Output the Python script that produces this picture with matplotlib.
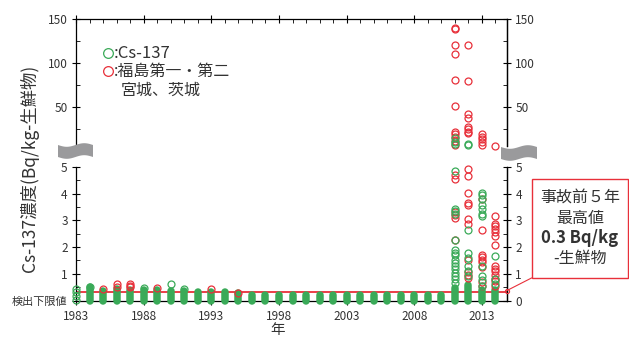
import numpy as np
import matplotlib
matplotlib.use("Agg")
import matplotlib.pyplot as plt
from matplotlib.patches import Polygon, Rectangle
from matplotlib.lines import Line2D

plt.rcParams['font.family'] = ['Noto Sans CJK JP', 'DejaVu Sans']

W, H = 629, 341

years = [1983, 1984, 1985, 1986, 1987, 1988, 1989, 1990, 1991, 1992, 1993,
         1994, 1995, 1996, 1997, 1998, 1999, 2000, 2001, 2002, 2003, 2004,
         2005, 2006, 2007, 2008, 2009, 2010, 2011, 2012, 2013, 2014]

# top of the dense (overlapping) green column per year, Bq/kg
green_col_top = [np.nan, 0.50, 0.37, 0.44, 0.40, 0.40, 0.38, 0.35, 0.35, 0.33,
                 0.32, 0.30, 0.28, 0.22, 0.22, 0.22, 0.21, 0.21, 0.21, 0.21,
                 0.21, 0.21, 0.21, 0.20, 0.20, 0.20, 0.20, 0.20, 0.45, 0.58,
                 0.40, 0.40]

# single Cs-137 samples (green) that stand out of the columns
green_pts = {
    1983: [0.02, 0.16, 0.30, 0.43],
    1984: [0.50],
    1988: [0.46],
    1990: [0.60],
    1991: [0.42],
    2011: [14.2, 10.3, 7.7, 4.84, 3.44, 3.35, 3.25, 2.25, 1.88, 1.79, 1.69,
           1.50, 1.39, 1.28, 1.17, 1.03, 0.90, 0.79, 0.65],
    2012: [7.2, 6.6, 2.65, 1.77, 1.58, 1.29, 1.12, 0.92],
    2013: [4.04, 3.94, 3.81, 3.56, 3.44, 3.25, 3.15, 1.28, 0.90, 0.78, 0.56],
    2014: [1.65, 0.81, 0.60],
}

# Fukushima I/II, Miyagi, Ibaraki (red)
red_pts = {
    1985: [0.43],
    1986: [0.60, 0.52],
    1987: [0.60, 0.55, 0.50],
    1989: [0.47],
    1993: [0.43],
    1995: [0.28],
    2011: [139.6, 138.4, 119.6, 109.8, 80.3, 50.8, 21.7, 19.0, 16.0, 11.4,
           6.6, 4.69, 4.54, 3.31, 3.19, 3.10, 2.25],
    2012: [119.6, 78.8, 41.7, 36.8, 27.4, 24.5, 21.8, 20.5, 4.94, 4.65, 4.04,
           3.65, 3.56, 3.06, 2.88, 1.52, 1.06, 0.94, 0.85],
    2013: [18.5, 15.5, 13.0, 10.0, 7.0, 3.81, 2.63, 1.69, 1.63, 1.52, 1.44,
           1.25, 0.69, 0.56],
    2014: [5.5, 3.15, 2.88, 2.78, 2.69, 2.56, 2.40, 2.06, 1.28, 1.19, 1.09,
           0.94, 0.81, 0.73, 0.53],
}

pre_max = 0.3
green = '#3aaa58'
red = '#e8303a'
txt = '#333333'


def fbox(x0, y0, x1, y1):
    # pixel box (top-left origin) -> figure fraction [l, b, w, h]
    return [x0 / W, 1 - y1 / H, (x1 - x0) / W, (y1 - y0) / H]


fig = plt.figure(figsize=(W / 100, H / 100), dpi=100)
ax_up = fig.add_axes(fbox(76, 18.5, 507, 146.4))
ax_lo = fig.add_axes(fbox(76, 167, 507, 300.5))

xlim = (1983, 2014.85)
for ax in (ax_up, ax_lo):
    ax.set_xlim(*xlim)
    for s in ax.spines.values():
        s.set_linewidth(0.9)
    ax.set_xticks(years[::5])
    ax.set_xticks(years, minor=True)

ax_up.set_ylim(5, 150)
ax_lo.set_ylim(0, 5)
ax_up.spines['bottom'].set_visible(False)
ax_lo.spines['top'].set_visible(False)

ax_up.tick_params(axis='x', which='both', bottom=False, top=True,
                  labelbottom=False)
ax_up.tick_params(axis='x', which='major', direction='inout', length=6)
ax_up.tick_params(axis='x', which='minor', direction='in', length=3)
ax_lo.tick_params(axis='x', which='major', direction='inout', length=6,
                  labelsize=8.5, labelcolor=txt, pad=4)
ax_lo.tick_params(axis='x', which='minor', direction='in', length=3)

ax_up.set_yticks([50, 100, 150])
ax_up.set_yticks([25, 75, 125], minor=True)
ax_lo.set_yticks([0, 1, 2, 3, 4, 5], ['検出下限値', '1', '2', '3', '4', '5'])
ax_lo.set_yticks(np.arange(0.5, 5, 1.0), minor=True)

for ax in (ax_up, ax_lo):
    ax.tick_params(axis='y', which='major', direction='inout', length=6,
                   labelsize=8.5, labelcolor=txt, pad=3)
    ax.tick_params(axis='y', which='minor', direction='in', length=3)
ax_lo.get_yticklabels()[0].set_fontsize(8)

# right-hand axes with their own labels
for ax, ticks, minor in ((ax_up, [50, 100, 150], [25, 75, 125]),
                         (ax_lo, [0, 1, 2, 3, 4, 5], np.arange(0.5, 5, 1.0))):
    r = ax.twinx()
    r.set_ylim(ax.get_ylim())
    r.set_yticks(ticks)
    r.set_yticks(minor, minor=True)
    r.tick_params(axis='y', which='major', direction='inout', length=6,
                  labelsize=8.5, labelcolor=txt, pad=3)
    r.tick_params(axis='y', which='minor', direction='in', length=3)
    for s in r.spines.values():
        s.set_visible(False)
    r.spines['right'].set_visible(True)
    r.spines['right'].set_linewidth(0.9)

# dense green columns (many overlapping circles)
cols = ax_lo.vlines(years, 0, green_col_top, colors=green, linewidth=5.4,
                    zorder=3, clip_on=False)
cols.set_capstyle('round')

mk = dict(marker='o', linestyle='none', markersize=5.0, mew=0.9,
          markerfacecolor='none', clip_on=False)
for pts, col, z in ((red_pts, red, 4), (green_pts, green, 5)):
    for yr, vals in pts.items():
        v = np.array(vals)
        lo = v[v <= 5]
        hi = v[v > 5]
        if len(lo):
            ax_lo.plot([yr] * len(lo), lo, color=col, zorder=z, **mk)
        if len(hi):
            ax_up.plot([yr] * len(hi), hi, color=col, zorder=z, **mk)

ax_lo.axhline(pre_max, color=red, linewidth=1.3, zorder=2)

# axis break marks
def wave_patch(x0, x1, yc):
    t = np.linspace(0, 1, 40)
    xs = x0 + (x1 - x0) * t
    top = yc - 6 + 1.8 * np.sin(2 * np.pi * t)
    bot = yc + 6 + 1.8 * np.sin(2 * np.pi * t)
    xy = np.concatenate([np.c_[xs, top], np.c_[xs[::-1], bot[::-1]]])
    xy[:, 0] /= W
    xy[:, 1] = 1 - xy[:, 1] / H
    fig.patches.append(Polygon(xy, closed=True, transform=fig.transFigure,
                               facecolor='#9a9a9c', edgecolor='none'))

wave_patch(58, 93, 151)
wave_patch(501, 537, 153)

# legend
for yy, col in ((53, green), (71, red)):
    fig.add_artist(Line2D([108 / W], [1 - yy / H], marker='o', markersize=7,
                          mew=0.9, markerfacecolor='none', color=col,
                          transform=fig.transFigure))
fig.text(114 / W, 1 - 53 / H, ':Cs-137', fontsize=12, color=txt, va='center')
fig.text(114 / W, 1 - 71 / H, ':福島第一・第二', fontsize=11.5, color=txt,
         va='center')
fig.text(121 / W, 1 - 90 / H, '宮城、茨城', fontsize=11.5, color=txt,
         va='center')

fig.text(30 / W, 1 - 168 / H, 'Cs-137濃度(Bq/kg-生鮮物)', fontsize=12.5,
         color=txt, rotation=90, ha='center', va='center')
fig.text(278 / W, 1 - 330 / H, '年', fontsize=10.5, color=txt,
         ha='center', va='center')

# annotation box
fig.patches.append(Rectangle((531.5 / W, 1 - 278 / H), (628 - 531.5) / W,
                             (278 - 179) / H, transform=fig.transFigure,
                             facecolor='white', edgecolor=red, linewidth=1.0))
fig.add_artist(Line2D([531.5 / W, 507 / W], [1 - 278 / H, 1 - 290.5 / H],
                      color=red, linewidth=0.8, transform=fig.transFigure))
fig.add_artist(Line2D([507 / W], [1 - 290.5 / H], marker='o', markersize=3,
                      mew=0.8, markerfacecolor='none', color=red,
                      transform=fig.transFigure))
cx = 580 / W
fig.text(cx, 1 - 198 / H, '事故前５年', fontsize=11.5, color=txt,
         ha='center', va='center')
fig.text(cx, 1 - 218 / H, '最高値', fontsize=11.5, color=txt,
         ha='center', va='center')
fig.text(cx, 1 - 238 / H, '0.3 Bq/kg', fontsize=12, color=txt,
         fontweight='bold', ha='center', va='center')
fig.text(cx, 1 - 258 / H, '-生鮮物', fontsize=11.5, color=txt,
         ha='center', va='center')

fig.savefig('out.png', dpi=100)
